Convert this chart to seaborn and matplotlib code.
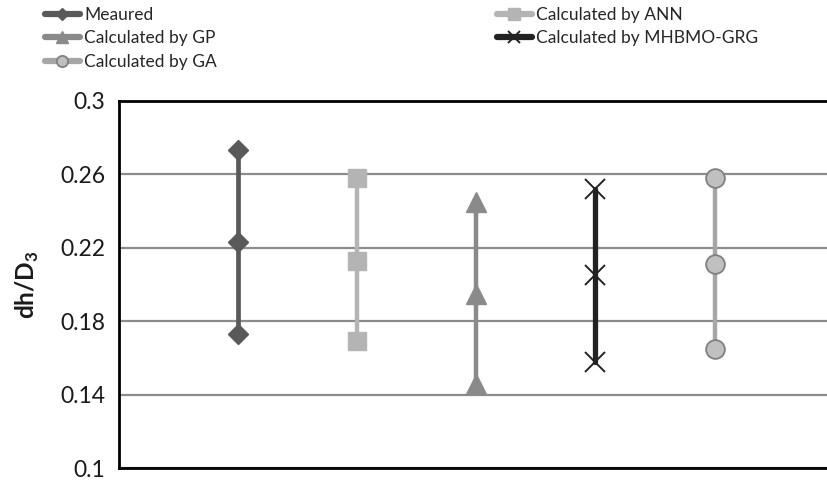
import matplotlib
matplotlib.use("Agg")
import matplotlib.pyplot as plt
from matplotlib.lines import Line2D
import seaborn as sns
import pandas as pd

# dh/D3 range (max, mean, min) for each method
methods = ["Meaured", "Calculated by ANN", "Calculated by GP",
           "Calculated by MHBMO-GRG", "Calculated by GA"]
max_vals = [0.273, 0.258, 0.245, 0.252, 0.258]
mean_vals = [0.223, 0.213, 0.195, 0.205, 0.211]
min_vals = [0.173, 0.169, 0.146, 0.158, 0.165]
y_ticks = [0.1, 0.14, 0.18, 0.22, 0.26, 0.3]
y_tick_labels = ["0.1", "0.14", "0.18", "0.22", "0.26", "0.3"]

rows = []
for i, m in enumerate(methods):
    for v in (max_vals[i], mean_vals[i], min_vals[i]):
        rows.append({"method": m, "pos": i + 1, "value": v})
df = pd.DataFrame(rows)

styles = {
    "Meaured": dict(color="#595959", marker="D", ms=10.5, mfc="#595959", mec="#595959", mew=1, lw=3.4),
    "Calculated by ANN": dict(color="#b4b4b4", marker="s", ms=13.5, mfc="#b4b4b4", mec="#b4b4b4", mew=1, lw=3.2),
    "Calculated by GP": dict(color="#8a8a8a", marker="^", ms=14, mfc="#8a8a8a", mec="#8a8a8a", mew=1, lw=3.2),
    "Calculated by MHBMO-GRG": dict(color="#222222", marker="x", ms=14, mfc="#222222", mec="#222222", mew=1.4, lw=3.8),
    "Calculated by GA": dict(color="#a6a6a6", marker="o", ms=13.5, mfc="#c0c0c0", mec="#808080", mew=1.3, lw=3.2),
}

sns.set_theme(style="white")
plt.rcParams["font.family"] = ["Lato", "DejaVu Sans"]
plt.rcParams["mathtext.fontset"] = "custom"
plt.rcParams["mathtext.rm"] = "Lato"
plt.rcParams["mathtext.bf"] = "Lato:bold"

fig = plt.figure(figsize=(8.27, 4.82), dpi=100)
ax = fig.add_axes([0.1443, 0.0284, 0.8636, 0.7627])

for m in methods:
    sub = df[df["method"] == m]
    sns.lineplot(data=sub, x="pos", y="value", estimator=None, sort=False,
                 ax=ax, legend=False, zorder=3, **styles[m])

ax.set_xlim(0, 6)
ax.set_ylim(0.1, 0.3)
ax.set_yticks(y_ticks)
ax.set_yticklabels(y_tick_labels)
ax.set_xticks([])
ax.set_xlabel("")
ax.yaxis.grid(True, color="#8c8c8c", lw=1.6)
ax.set_axisbelow(True)
ax.tick_params(axis="y", length=0, pad=10, labelsize=16.5, colors="#1a1a1a")
for s in ["left", "bottom", "top"]:
    ax.spines[s].set_color("black")
    ax.spines[s].set_linewidth(2)
ax.spines["right"].set_visible(False)

ax.set_ylabel(r"dh/D$_\mathbf{3}$", fontsize=17.5, fontweight="bold", color="#1a1a1a")
ax.yaxis.set_label_coords(-0.11, 0.5)


def handle(m):
    st = dict(styles[m])
    st["ms"] = st["ms"] * 0.6
    st["lw"] = 4.5
    return Line2D([], [], **st)


leg_kw = dict(frameon=False, fontsize=12.5, handlelength=2.0, handletextpad=0.25,
              labelspacing=0.42, borderpad=0, borderaxespad=0)
left_items = ["Meaured", "Calculated by GP", "Calculated by GA"]
right_items = ["Calculated by ANN", "Calculated by MHBMO-GRG"]
fig.legend([handle(m) for m in left_items], left_items, loc="upper left",
           bbox_to_anchor=(45 / 827, 1 - 7 / 482), **leg_kw)
fig.legend([handle(m) for m in right_items], right_items, loc="upper left",
           bbox_to_anchor=(497 / 827, 1 - 7 / 482), **leg_kw)

fig.savefig("out.png", dpi=100)
